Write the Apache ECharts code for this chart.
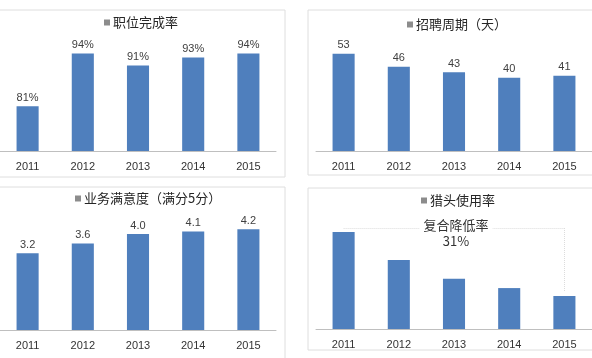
<!DOCTYPE html>
<html><head><meta charset="utf-8">
<script src="https://cdn.jsdelivr.net/npm/echarts@6/dist/echarts.min.js"></script>
<style>html,body{margin:0;padding:0;background:#fff}#c{width:592px;height:358px}</style>
</head><body><div id="c"></div>
<script>
const years = ['2011','2012','2013','2014','2015'];
const title1 = '职位完成率';
const values1 = [81, 94, 91, 93, 94];
const title2 = '招聘周期（天）';
const values2 = [53, 46, 43, 40, 41];
const title3 = '业务满意度（满分5分）';
const values3 = [3.2, 3.6, 4.0, 4.1, 4.2];
const title4 = '猎头使用率';
const values4 = [2.94, 2.09, 1.52, 1.24, 1.0];
const note4 = ['复合降低率', '31%'];

const FONT = '"Liberation Sans", Arial, sans-serif';
const CJK = '"Noto Sans CJK SC", sans-serif';
const BAR = '#4f7fbd';

const grids = [
  {left: -1, width: 277, top: 29, height: 122},
  {left: 316, width: 277, top: 41, height: 110},
  {left: -1, width: 277, top: 210, height: 120},
  {left: 316, width: 277, top: 197, height: 132}
];
const yRanges = [[70,100],[0,60],[0,5],[0,4]];
const titles = [title1, title2, title3, title4];
const vals = [values1, values2, values3, values4];
const fmts = [v => v.value + '%', v => String(v.value), v => v.value.toFixed(1), null];
const legendPos = [[104, 16], [407, 18], [75, 192], [421, 194]];

const option = {
  animation: false,
  backgroundColor: '#fff',
  grid: grids,
  legend: titles.map((t, i) => ({
    data: [t], left: legendPos[i][0], top: legendPos[i][1], padding: 0,
    icon: 'rect', itemWidth: 6, itemHeight: 6, selectedMode: false,
    itemStyle: {color: '#8c8c8c'},
    textStyle: {fontFamily: CJK, fontSize: 13, color: '#262626', padding: [0,0,0,-2]}
  })),
  xAxis: grids.map((g, i) => ({
    type: 'category', gridIndex: i, data: years,
    axisLine: {lineStyle: {color: '#bfbfbf'}}, axisTick: {show: false},
    axisLabel: {fontFamily: FONT, fontSize: 11, color: '#333', margin: 10}
  })),
  yAxis: grids.map((g, i) => ({
    type: 'value', gridIndex: i, min: yRanges[i][0], max: yRanges[i][1],
    show: false, splitLine: {show: false}
  })),
  series: vals.map((d, i) => {
    const s = {
      type: 'bar', name: titles[i], xAxisIndex: i, yAxisIndex: i, data: d,
      barWidth: '40%', itemStyle: {color: BAR},
      label: fmts[i] ? {show: true, position: 'top', distance: 3, formatter: fmts[i],
        fontFamily: FONT, fontSize: 11, color: '#404040'} : {show: false}
    };
    if (i === 3) {
      s.markLine = {
        silent: true, symbol: 'none',
        lineStyle: {color: '#dcdcdc', type: 'dotted', width: 1},
        label: {show: false},
        data: [
          [{coord: ['2011', 3.06]}, {coord: ['2015', 3.06]}],
          [{coord: ['2015', 3.06]}, {coord: ['2015', 1.12]}]
        ]
      };
    }
    return s;
  }),
  graphic: [
    {type: 'rect', shape: {x: -5, y: 10, width: 290, height: 167}, style: {fill: 'none', stroke: '#dedede', lineWidth: 1}, z: -1},
    {type: 'rect', shape: {x: 308, y: 10, width: 295, height: 165}, style: {fill: 'none', stroke: '#dedede', lineWidth: 1}, z: -1},
    {type: 'rect', shape: {x: -5, y: 187, width: 290, height: 180}, style: {fill: 'none', stroke: '#dedede', lineWidth: 1}, z: -1},
    {type: 'rect', shape: {x: 308, y: 188, width: 295, height: 162}, style: {fill: 'none', stroke: '#dedede', lineWidth: 1}, z: -1},
    {type: 'text', x: 456, y: 217, z: 10, style: {text: note4[0] + '\n' + note4[1], align: 'center',
      fill: '#333', font: '13px ' + CJK, lineHeight: 16, backgroundColor: '#fff', padding: [0, 4]}}
  ]
};
echarts.init(document.getElementById('c')).setOption(option);
</script></body></html>
